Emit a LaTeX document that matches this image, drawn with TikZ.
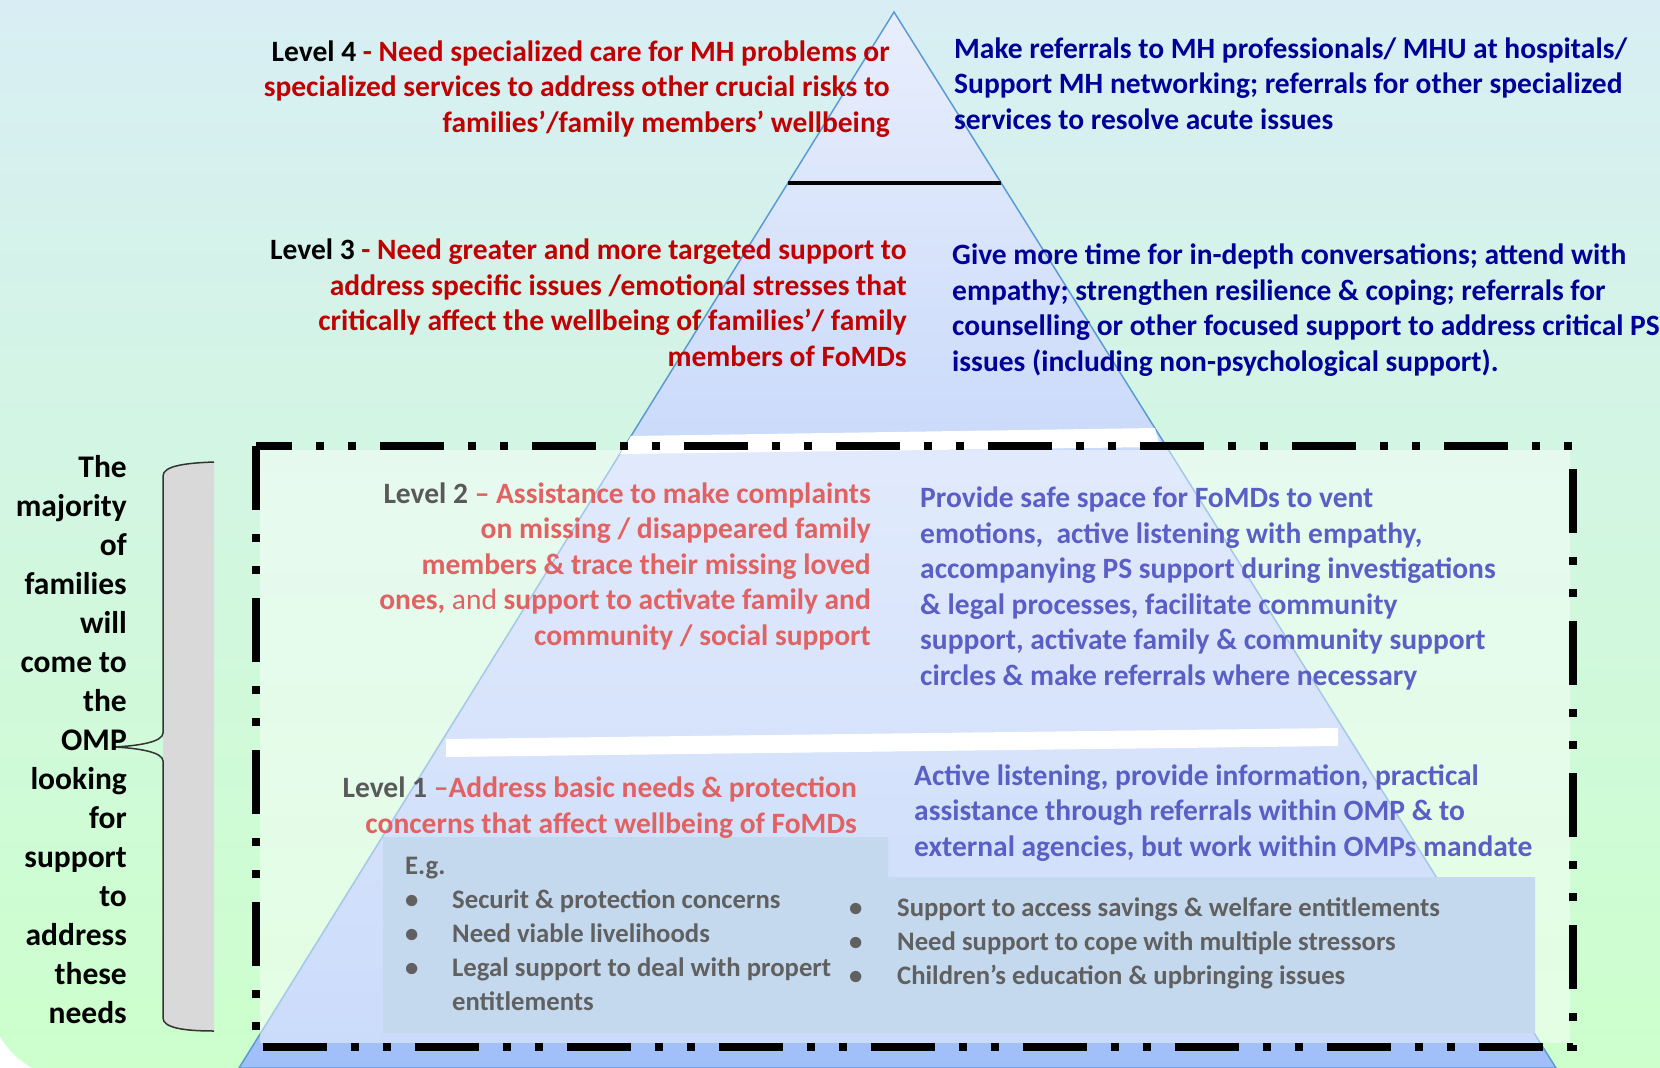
\documentclass[tikz,border=0pt]{standalone}
\usepackage{fontspec}
\setmainfont{Carlito}

\definecolor{bgtop}{HTML}{D8EEF4}
\definecolor{bgbot}{HTML}{CCFFCC}
\definecolor{pyrtop}{HTML}{E8EEFC}
\definecolor{pyrbot}{HTML}{A0BEF8}
\definecolor{pyredge}{HTML}{5B9BD5}
\definecolor{egfill}{HTML}{C4D8EE}
\definecolor{bracegray}{HTML}{D9D9D9}
\definecolor{needred}{HTML}{C00000}
\definecolor{actnavy}{HTML}{000099}
\definecolor{needpink}{HTML}{E06262}
\definecolor{lvlgray}{HTML}{595959}
\definecolor{actpurple}{HTML}{5B5FC5}
\definecolor{eggray}{HTML}{606060}

\begin{document}
\begin{tikzpicture}[x=1pt,y=-1pt,
  txt/.style={inner sep=0pt, font=\bfseries\fontsize{29.5}{35.5}\selectfont},
  need/.style={txt, align=right, anchor=base east},
  act/.style={txt, align=left, anchor=base west},
  eg/.style={inner sep=0pt, align=left, anchor=base west, text=eggray,
    font=\bfseries\fontsize{26.7}{34}\selectfont},
  band/.style={fill=white}]

\useasboundingbox (0,0) rectangle (1660,1068);

% background and pyramid
\fill[top color=bgtop, bottom color=bgbot] (0,0) rectangle (1660,1068);
\fill[white] (0,1037) .. controls (8,1050) and (18,1060) .. (32,1068) -- (0,1068) -- cycle;

\coordinate (apex) at (894,12);
\coordinate (baseL) at (239,1068);
\coordinate (baseR) at (1556,1068);
\draw[pyredge, line width=1.5, top color=pyrtop, bottom color=pyrbot] (apex) -- (baseR) -- (baseL) -- cycle;

% dividers between the levels
\draw[line width=4] (788,183) -- (1001,183);
\fill[band] (631,436) -- (1155,428) -- (1160,447) -- (620,454) -- cycle;
\fill[band] (446,739) -- (1338,728) -- (1338,746) -- (446,757) -- cycle;

% levels 1 and 2
\fill[white, opacity=0.45] (260,450) rectangle (1570,1043);
\fill[egfill] (383,837) -- (888,837) -- (888,877) -- (1535,877) -- (1535,1033) -- (383,1033) -- cycle;
\draw[line width=8, dash pattern=on 64 off 24 on 8 off 24 on 8 off 24] (256,446) rectangle (1573,1047);

% left column: needs (anchored at the last line)
\node[need, text=needred] (need4) at (890,132) {{\color{black}Level 4} - Need specialized care for MH problems or\\
  specialized services to address other crucial risks to\\
  families'/family members' wellbeing};
\node[need, text=needred] (need3) at (907,366) {{\color{black}Level 3} - Need greater and more targeted support to\\
  address specific issues /emotional stresses that\\
  critically affect the wellbeing of families'/ family\\
  members of FoMDs};
\node[need, text=needpink] (need2) at (871,645) {{\color{lvlgray}Level 2} – Assistance to make complaints\\
  on missing / disappeared family\\
  members \& trace their missing loved\\
  ones, {\mdseries and} support to activate family and\\
  community / social support};
\node[need, text=needpink] (need1) at (857,833) {{\color{lvlgray}Level 1} –Address basic needs \& protection\\
  concerns that affect wellbeing of FoMDs};

% right column: responses
\node[act, text=actnavy] (act4) at (954,129) {Make referrals to MH professionals/ MHU at hospitals/\\
  Support MH networking; referrals for other specialized\\
  services to resolve acute issues};
\node[act, text=actnavy] (act3) at (952,371) {Give more time for in-depth conversations; attend with\\
  empathy; strengthen resilience \& coping; referrals for\\
  counselling or other focused support to address critical PS\\
  issues (including non-psychological support).};
\node[act, text=actpurple] (act2) at (920,685) {Provide safe space for FoMDs to vent\\
  emotions,\ \ active listening with empathy,\\
  accompanying PS support during investigations\\
  \& legal processes, facilitate community\\
  support, activate family \& community support\\
  circles \& make referrals where necessary};
\node[act, text=actpurple] (act1) at (914,856) {Active listening, provide information, practical\\
  assistance through referrals within OMP \& to\\
  external agencies, but work within OMPs mandate};

% examples of level 1 needs
\node[eg] (egA) at (405,1010) {E.g.\\
  \makebox[47pt][l]{\textbullet}Securit \& protection concerns\\
  \makebox[47pt][l]{\textbullet}Need viable livelihoods\\
  \makebox[47pt][l]{\textbullet}Legal support to deal with propert\\
  \hspace*{47pt}entitlements};
\node[eg] (egB) at (849,984) {\makebox[48pt][l]{\textbullet}Support to access savings \& welfare entitlements\\
  \makebox[48pt][l]{\textbullet}Need support to cope with multiple stressors\\
  \makebox[48pt][l]{\textbullet}Children’s education \& upbringing issues};

% brace with the note on the left
\fill[bracegray] (214,462) .. controls (185,463) and (163,466) .. (163,476) -- (163,1018)
  .. controls (163,1028) and (185,1031) .. (214,1031) -- cycle;
\draw[line width=1.5, black!80] (214,462) .. controls (185,463) and (163,466) .. (163,476) -- (163,733)
  .. controls (163,742) and (138,746) .. (113,747) .. controls (138,748) and (163,752) .. (163,761)
  -- (163,1018) .. controls (163,1028) and (185,1031) .. (214,1031);
\node[need, font=\bfseries\fontsize{31.5}{39}\selectfont] (majority) at (127,1023) {The\\ majority\\ of\\ families\\ will\\ come to\\ the\\ OMP\\ looking\\ for\\ support\\ to\\ address\\ these\\ needs};

\end{tikzpicture}
\end{document}
